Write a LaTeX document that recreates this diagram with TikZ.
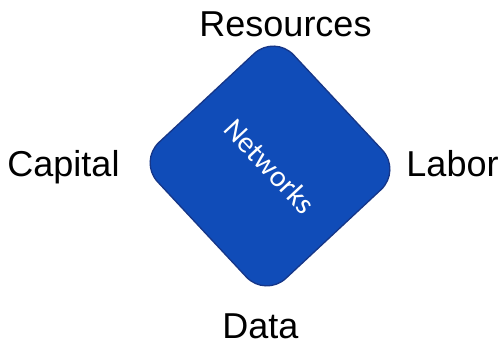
\documentclass[tikz,border=0pt]{standalone}
\usepackage{fontspec}
\setmainfont{Liberation Sans}
\newfontfamily\calib{Carlito}
\definecolor{netfill}{RGB}{16,76,184}
\definecolor{netdraw}{RGB}{22,54,136}
\begin{document}
\begin{tikzpicture}[x=1pt,y=1pt,
  lbl/.style={anchor=base,inner sep=0pt,font=\fontsize{36}{36}\selectfont,text=black},
  netbox/.style={draw=netdraw,line width=1.3pt,fill=netfill,rounded corners=28pt,
    minimum width=186pt,minimum height=186pt,inner sep=0pt,rotate=-47,
    text=white,font=\calib\fontsize{30}{30}\selectfont}]
\useasboundingbox (0,0) rectangle (502,-344);
\node[netbox] (net) at (270,-166) {Networks};
\node[lbl] (res) at (285.5,-37) {Resources};
\node[lbl] (cap) at (63.5,-177) {Capital};
\node[lbl] (lab) at (452.5,-177) {Labor};
\node[lbl] (dat) at (260.5,-338) {Data};
\end{tikzpicture}
\end{document}
